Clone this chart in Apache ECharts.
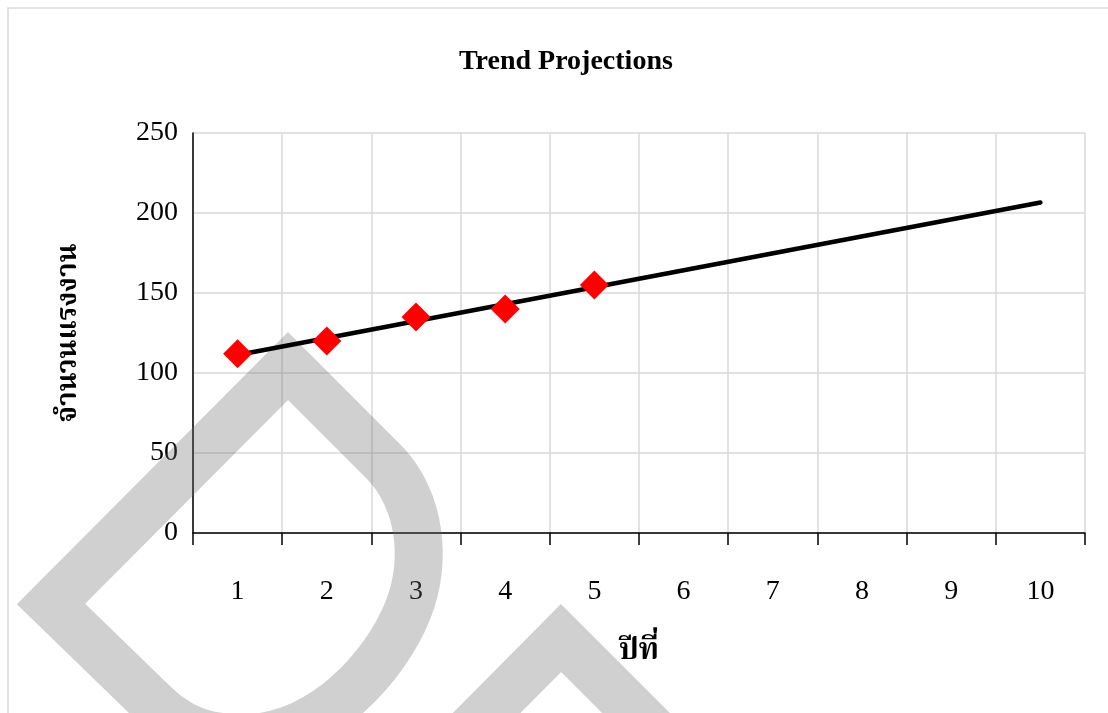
<!DOCTYPE html>
<html>
<head>
<meta charset="utf-8">
<script src="https://cdn.jsdelivr.net/npm/echarts@6/dist/echarts.min.js"></script>
<style>
  html, body { margin: 0; padding: 0; background: #fff; }
  #chart { width: 1108px; height: 713px; }
</style>
</head>
<body>
<div id="chart"></div>
<script>
// Years on the horizontal axis
const years = ['1', '2', '3', '4', '5', '6', '7', '8', '9', '10'];
// Observed labour counts for years 1-5
const observedYears = ['1', '2', '3', '4', '5'];
const observedValues = [112, 120, 135, 140, 155];
// Projected trend line, from year 1 to year 10
const trendYears = ['1', '10'];
const trendValues = [111.2, 206.6];
// Vertical axis ticks
const yTicks = [0, 50, 100, 150, 200, 250];

const serif = '"Liberation Serif", "Times New Roman", serif';
const thai = '"Noto Serif Thai", "Noto Sans Thai", "Liberation Serif", "DejaVu Sans", sans-serif';

// Sample a cubic Bezier into points for a polyline outline
function cubic(p0, p1, p2, p3, n) {
  const pts = [];
  for (let i = 1; i <= n; i++) {
    const t = i / n, u = 1 - t;
    pts.push([
      u * u * u * p0[0] + 3 * u * u * t * p1[0] + 3 * u * t * t * p2[0] + t * t * t * p3[0],
      u * u * u * p0[1] + 3 * u * u * t * p1[1] + 3 * u * t * t * p2[1] + t * t * t * p3[1]
    ]);
  }
  return pts;
}

// Teardrop-shaped emblem outline
const dropPts = [[51, 604], [288, 366], [385, 463]]
  .concat(cubic([385, 463], [420, 500], [428, 560], [408, 610], 16))
  .concat(cubic([408, 610], [385, 668], [322, 735], [250, 738], 16))
  .concat(cubic([250, 738], [200, 740], [175, 725], [150, 700], 10));
const chevronPts = [[440, 760], [561, 638], [683, 760]];

const emblemStyle = { fill: 'none', stroke: 'rgba(110,110,110,0.32)', lineWidth: 48, lineJoin: 'miter', miterLimit: 10 };

const chart = echarts.init(document.getElementById('chart'), null, { renderer: 'canvas' });

chart.setOption({
  backgroundColor: '#ffffff',
  animation: false,
  title: {
    text: 'Trend Projections',
    left: 454,
    top: 43,
    textStyle: { fontFamily: serif, fontSize: 28, fontWeight: 'bold', color: '#000' }
  },
  grid: { left: 193, right: 23, top: 133, bottom: 180, containLabel: false },
  xAxis: {
    type: 'category',
    data: years,
    boundaryGap: true,
    name: 'ปีที่',
    nameLocation: 'middle',
    nameGap: 106,
    nameTextStyle: { fontFamily: thai, fontSize: 30, fontWeight: 'bold', color: '#000' },
    axisLine: { lineStyle: { color: '#000', width: 1.5 } },
    axisTick: { show: true, length: 12, lineStyle: { color: '#000', width: 1.5 } },
    axisLabel: { margin: 45, fontFamily: serif, fontSize: 28, color: '#000' },
    splitLine: { show: true, lineStyle: { color: '#d9d9d9', width: 1.5 } }
  },
  yAxis: {
    type: 'value',
    min: yTicks[0],
    max: yTicks[yTicks.length - 1],
    interval: yTicks[1] - yTicks[0],
    name: 'จำนวนแรงงาน',
    nameLocation: 'middle',
    nameRotate: 90,
    nameGap: 108,
    nameTextStyle: { fontFamily: thai, fontSize: 28, fontWeight: 'bold', color: '#000' },
    axisLine: { show: true, lineStyle: { color: '#000', width: 1.5 } },
    axisTick: { show: false },
    axisLabel: { margin: 15, fontFamily: serif, fontSize: 28, color: '#000' },
    splitLine: { show: true, lineStyle: { color: '#d9d9d9', width: 1.5 } }
  },
  graphic: [
    // outer chart frame
    {
      type: 'rect', z: 0, silent: true,
      shape: { x: 8, y: 8, width: 1200, height: 800 },
      style: { fill: 'none', stroke: '#d9d9d9', lineWidth: 1.5 }
    },
    // faint emblem in the background
    { type: 'polygon', z: 1, silent: true, shape: { points: dropPts }, style: emblemStyle },
    { type: 'polyline', z: 1, silent: true, shape: { points: chevronPts }, style: emblemStyle }
  ],
  series: [
    {
      name: 'Trend',
      type: 'line',
      z: 3,
      data: trendYears.map((y, i) => [y, trendValues[i]]),
      showSymbol: false,
      symbol: 'none',
      lineStyle: { color: '#000', width: 4.5, cap: 'round' }
    },
    {
      name: 'Observed',
      type: 'scatter',
      z: 4,
      data: observedYears.map((y, i) => [y, observedValues[i]]),
      symbol: 'diamond',
      symbolSize: 29,
      itemStyle: { color: '#ff0000', opacity: 1 }
    }
  ]
});
</script>
</body>
</html>
